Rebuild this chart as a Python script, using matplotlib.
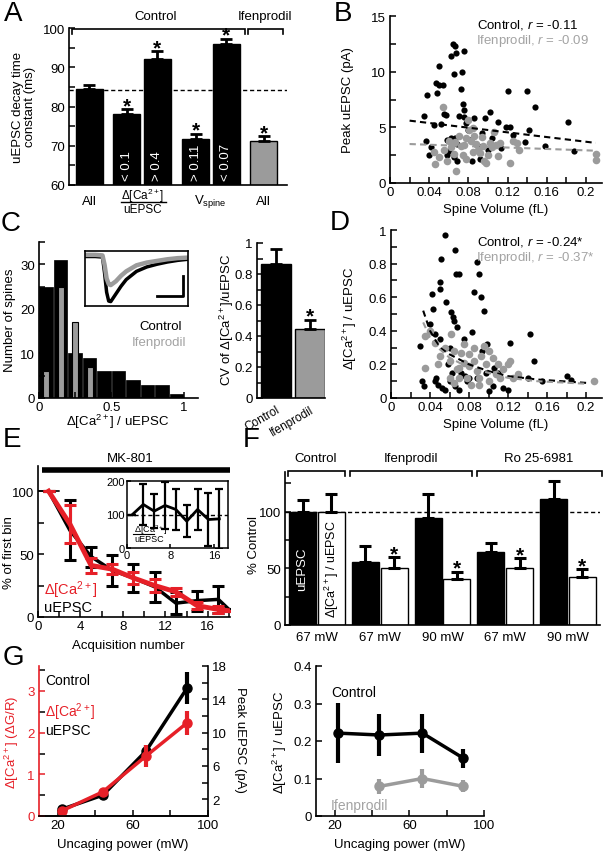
import numpy as np
import matplotlib
matplotlib.use('Agg')
import matplotlib.pyplot as plt
from matplotlib.ticker import MultipleLocator, FixedLocator
from matplotlib.lines import Line2D

plt.rcParams['font.family'] = ['Liberation Sans', 'DejaVu Sans']
plt.rcParams['mathtext.fontset'] = 'custom'
plt.rcParams['mathtext.rm'] = 'Liberation Sans'
plt.rcParams['mathtext.it'] = 'Liberation Sans:italic'
plt.rcParams['mathtext.bf'] = 'Liberation Sans:bold'
plt.rcParams['font.size'] = 9.5
plt.rcParams['xtick.labelsize'] = 9.5
plt.rcParams['ytick.labelsize'] = 9.5
plt.rcParams['xtick.direction'] = 'in'
plt.rcParams['ytick.direction'] = 'in'
plt.rcParams['xtick.major.size'] = 4
plt.rcParams['ytick.major.size'] = 4
plt.rcParams['xtick.minor.size'] = 4
plt.rcParams['ytick.minor.size'] = 4
plt.rcParams['xtick.major.width'] = 1.1
plt.rcParams['ytick.major.width'] = 1.1
plt.rcParams['xtick.minor.width'] = 1.1
plt.rcParams['ytick.minor.width'] = 1.1
plt.rcParams['axes.linewidth'] = 1.2
plt.rcParams['xtick.major.pad'] = 2.5
plt.rcParams['ytick.major.pad'] = 3

RED = '#e62028'
GRAY = '#9b9b9b'
GTXT = '#a3a3a3'

# ---------------- DATA ----------------
# A: uEPSC decay time constant
a_values = [84.5, 78.0, 92.0, 71.7, 95.9, 71.2]
a_errors = [1.0, 1.4, 2.1, 1.4, 1.4, 1.3]
a_thresholds = ['', '< 0.1', '> 0.4', '> 0.11', '< 0.07', '']
a_star = [False, True, True, True, True, True]
a_baseline = 84.3

# B: peak uEPSC vs spine volume
b_ctrl_x = [0.035, 0.038, 0.037, 0.040, 0.042, 0.045, 0.047, 0.048, 0.050, 0.050, 0.052, 0.054, 0.055,
            0.057, 0.058, 0.060, 0.062, 0.064, 0.065, 0.066, 0.067, 0.062, 0.065, 0.068, 0.070, 0.072,
            0.073, 0.074, 0.075, 0.075, 0.076, 0.078, 0.080, 0.082, 0.084, 0.086, 0.090, 0.092, 0.097,
            0.100, 0.102, 0.104, 0.110, 0.113, 0.118, 0.120, 0.122, 0.125, 0.140, 0.142, 0.138, 0.148,
            0.158, 0.182, 0.188, 0.068, 0.058, 0.066, 0.088, 0.094]
b_ctrl_y = [6.0, 7.9, 3.8, 2.5, 3.2, 5.2, 9.0, 8.1, 10.5, 8.8, 5.3, 8.8, 6.2,
            6.1, 3.9, 2.9, 11.4, 12.5, 9.8, 12.3, 11.7, 4.0, 2.3, 2.0, 6.0, 8.4,
            10.0, 7.1, 11.9, 6.6, 5.9, 5.4, 4.8, 3.9, 2.0, 5.8, 3.3, 2.2, 5.8,
            3.0, 6.4, 4.0, 5.5, 3.1, 5.0, 8.3, 5.0, 4.3, 8.3, 4.8, 3.7, 6.8,
            3.3, 5.5, 2.9, 3.5, 2.5, 4.0, 3.5, 4.5]
b_ifen_x = [0.045, 0.046, 0.050, 0.054, 0.055, 0.058, 0.062, 0.066, 0.067, 0.070, 0.072, 0.074, 0.076,
            0.078, 0.080, 0.081, 0.083, 0.085, 0.086, 0.088, 0.090, 0.092, 0.094, 0.095, 0.096, 0.098,
            0.100, 0.102, 0.104, 0.106, 0.108, 0.110, 0.112, 0.122, 0.125, 0.130, 0.132, 0.078, 0.085,
            0.210, 0.210, 0.065, 0.060]
b_ifen_y = [2.8, 1.7, 2.3, 6.8, 3.0, 2.0, 3.2, 3.7, 1.1, 4.2, 3.3, 2.5, 3.4,
            2.2, 5.7, 4.8, 3.8, 4.9, 4.2, 3.5, 3.0, 2.7, 4.1, 3.3, 2.0, 1.8,
            2.5, 3.6, 3.2, 4.6, 3.4, 2.4, 3.6, 1.8, 3.8, 3.6, 3.0, 4.0, 2.8,
            2.6, 2.1, 2.6, 3.8]
b_fit_x = [0.02, 0.21]
b_fit_ctrl = [5.6, 3.6]
b_fit_ifen = [3.5, 2.9]

# C: histogram of dCa/uEPSC and CV
c_bin_left = [0.0, 0.1, 0.2, 0.3, 0.4, 0.5, 0.6, 0.7, 0.8, 0.9]
c_ctrl_counts = [25, 31, 10, 9, 6, 6, 4, 3, 3, 1]
c_ifen_counts = [6, 25, 17, 7]
c_cv_labels = ['Control', 'Ifenprodil']
c_cv_values = [0.865, 0.445]
c_cv_errors = [0.095, 0.06]
c_trace_t = [0.0, 0.1, 0.17, 0.19, 0.21, 0.23, 0.25, 0.3, 0.35, 0.4, 0.5, 0.6, 0.7, 0.8, 0.9, 1.0]
c_trace_ctrl = [0.90, 0.90, 0.89, 0.60, 0.25, 0.09, 0.08, 0.22, 0.36, 0.48, 0.63, 0.71, 0.76, 0.80, 0.83, 0.85]
c_trace_ifen = [0.93, 0.93, 0.92, 0.75, 0.50, 0.40, 0.38, 0.45, 0.55, 0.63, 0.74, 0.79, 0.82, 0.85, 0.87, 0.88]

# D: dCa/uEPSC vs spine volume
d_ctrl_x = [0.030, 0.032, 0.034, 0.040, 0.042, 0.043, 0.045, 0.046, 0.048, 0.050, 0.050, 0.051, 0.055,
            0.056, 0.052, 0.055, 0.060, 0.062, 0.064, 0.065, 0.066, 0.067, 0.070, 0.068, 0.066, 0.070,
            0.072, 0.075, 0.078, 0.080, 0.083, 0.085, 0.088, 0.090, 0.092, 0.095, 0.093, 0.098, 0.100,
            0.105, 0.110, 0.115, 0.120, 0.122, 0.130, 0.140, 0.142, 0.147, 0.155, 0.180, 0.185, 0.060,
            0.063, 0.058, 0.076, 0.088, 0.097, 0.106, 0.045, 0.050]
d_ctrl_y = [0.31, 0.10, 0.07, 0.44, 0.62, 0.53, 0.10, 0.12, 0.08, 0.69, 0.65, 0.83, 0.97,
            0.57, 0.06, 0.05, 0.30, 0.51, 0.48, 0.46, 0.88, 0.74, 0.74, 0.42, 0.07, 0.05,
            0.15, 0.35, 0.10, 0.12, 0.39, 0.63, 0.81, 0.74, 0.60, 0.52, 0.28, 0.32, 0.04,
            0.07, 0.15, 0.06, 0.05, 0.33, 0.13, 0.12, 0.38, 0.22, 0.10, 0.13, 0.11, 0.10,
            0.15, 0.20, 0.13, 0.12, 0.15, 0.18, 0.38, 0.35]
d_ifen_x = [0.035, 0.040, 0.045, 0.048, 0.050, 0.055, 0.060, 0.060, 0.065, 0.068, 0.070, 0.072, 0.075,
            0.075, 0.078, 0.080, 0.082, 0.085, 0.085, 0.088, 0.090, 0.092, 0.095, 0.097, 0.100, 0.100,
            0.105, 0.108, 0.110, 0.112, 0.115, 0.120, 0.122, 0.125, 0.130, 0.070, 0.080, 0.090, 0.062,
            0.035, 0.208, 0.065]
d_ifen_y = [0.37, 0.40, 0.33, 0.20, 0.25, 0.30, 0.12, 0.22, 0.28, 0.17, 0.18, 0.27, 0.32,
            0.21, 0.12, 0.19, 0.08, 0.22, 0.30, 0.16, 0.12, 0.25, 0.31, 0.20, 0.10, 0.28,
            0.24, 0.14, 0.20, 0.12, 0.17, 0.20, 0.22, 0.12, 0.14, 0.12, 0.26, 0.08, 0.38,
            0.18, 0.10, 0.09]
d_fit_x = [0.033, 0.04, 0.05, 0.06, 0.08, 0.10, 0.12, 0.15, 0.20]
d_fit_ctrl = [0.52, 0.40, 0.30, 0.26, 0.20, 0.16, 0.13, 0.11, 0.09]
d_fit_ifen = [0.45, 0.36, 0.29, 0.24, 0.18, 0.15, 0.12, 0.10, 0.085]

# E: MK-801 block
e_acq = [1, 3, 5, 7, 9, 11, 13, 15, 17, 18]
e_uepsc = [100, 69, 48, 37, 31, 24, 11, 13, 14, 6]
e_uepsc_err = [0, 24, 8, 12, 11, 12, 9, 8, 11, 0]
e_ca = [100, 74, 41, 38, 31, 25, 20, 9, 6, 5]
e_ca_err = [0, 15, 6, 4, 5, 5, 3, 3, 3, 0]
ei_acq = [1, 3, 5, 7, 9, 11, 13, 15, 17]
ei_ratio = [100, 130, 110, 127, 115, 80, 115, 85, 87]
ei_err = [0, 60, 50, 70, 60, 48, 60, 78, 90]

# F: % control
f_treat = ['Control', 'Ifenprodil', 'Ro 25-6981']
f_power = ['67 mW', '67 mW', '90 mW', '67 mW', '90 mW']
f_uepsc = [100, 56, 94, 64, 111]
f_uepsc_err = [10, 14, 22, 8, 16]
f_ratio = [100, 50, 41, 50, 42]
f_ratio_err = [16, 10, 6, 9, 7]
f_star = [False, True, True, True, True]

# G: uncaging power
g_power = [22, 44, 67, 89]
g_ca = [0.12, 0.58, 1.44, 2.24]
g_ca_err = [0.05, 0.08, 0.27, 0.29]
g_uepsc = [0.8, 2.5, 7.8, 15.4]
g_uepsc_err = [0.3, 0.4, 0.7, 1.9]
gr_ctrl = [0.221, 0.216, 0.221, 0.154]
gr_ctrl_err = [0.08, 0.055, 0.052, 0.025]
gr_ifen_power = [44, 67, 89]
gr_ifen = [0.079, 0.100, 0.079]
gr_ifen_err = [0.02, 0.025, 0.016]

# ---------------- LAYOUT HELPERS ----------------
W, H = 605, 853
fig = plt.figure(figsize=(W / 100, H / 100), dpi=100)


def add_ax(l, t, r, b):
    return fig.add_axes([l / W, 1 - b / H, (r - l) / W, (b - t) / H])


def T(x, y, s, **kw):
    kw.setdefault('ha', 'center')
    kw.setdefault('va', 'center')
    fig.text(x / W, 1 - y / H, s, **kw)


def L(xs, ys, **kw):
    kw.setdefault('color', 'k')
    kw.setdefault('lw', 1.2)
    fig.add_artist(Line2D([x / W for x in xs], [1 - y / H for y in ys], transform=fig.transFigure, **kw))


def bracket(x0, x1, y, d=5):
    L([x0, x0, x1, x1], [y + d, y, y, y + d], solid_joinstyle='miter')


def lb(ax):
    ax.spines['top'].set_visible(False)
    ax.spines['right'].set_visible(False)


def star(ax, x, y, off=-1.5, fs=15):
    ax.annotate('*', xy=(x, y), xytext=(0, off), textcoords='offset points', ha='center',
                va='baseline', fontsize=fs, fontweight='bold', annotation_clip=False)


DCA = r'$\Delta$[Ca$^{2+}$]'

# ---------------- PANEL A ----------------
axA = add_ax(69, 29, 287, 186)
lb(axA)
a_pos = np.array([0, 1.23, 2.23, 3.48, 4.48, 5.71])
a_cols = ['k'] * 5 + [GRAY]
axA.bar(a_pos, a_values, width=0.885, color=a_cols, edgecolor='k', lw=1, bottom=0)
axA.errorbar(a_pos, a_values, yerr=[np.zeros(6), a_errors], fmt='none', ecolor='k', elinewidth=2,
             capsize=4, capthick=2)
axA.axhline(a_baseline, ls=(0, (3, 2)), color='k', lw=1)
axA.set_xlim(-0.67, 6.48)
axA.set_ylim(60, 100)
axA.set_yticks([60, 70, 80, 90, 100])
axA.yaxis.set_minor_locator(MultipleLocator(5))
axA.set_xticks([])
for p, v, e, s, th in zip(a_pos, a_values, a_errors, a_star, a_thresholds):
    if s:
        star(axA, p, v + e)
    if th:
        axA.text(p, 61.3, th, rotation=90, color='white', ha='center', va='bottom', fontsize=9.5)
xt = axA.get_xaxis_transform()
axA.text(a_pos[0], -0.1, 'All', transform=xt, ha='center', va='center')
axA.text(a_pos[5], -0.1, 'All', transform=xt, ha='center', va='center')
axA.text((a_pos[3] + a_pos[4]) / 2, -0.1, r'V$_{\mathrm{spine}}$', transform=xt, ha='center', va='center')
axA.text((a_pos[1] + a_pos[2]) / 2, -0.065, DCA, transform=xt, ha='center', va='center', fontsize=8.5)
axA.text((a_pos[1] + a_pos[2]) / 2, -0.155, 'uEPSC', transform=xt, ha='center', va='center', fontsize=8.5)
L([121, 166], [203, 203], lw=1)
bracket(72, 245, 30)
bracket(248, 283, 30)
T(156, 17, 'Control')
T(265, 17, 'Ifenprodil')
T(24, 107, 'uEPSC decay time\nconstant (ms)', rotation=90, linespacing=1.1)

# ---------------- PANEL B ----------------
vol_ticks = [0, 0.04, 0.08, 0.12, 0.16, 0.2]
vol_labels = ['0', '0.04', '0.08', '0.12', '0.16', '0.2']
axB = add_ax(390, 17, 602, 184)
lb(axB)
axB.scatter(b_ctrl_x, b_ctrl_y, s=20, color='k', zorder=2, linewidths=0)
axB.scatter(b_ifen_x, b_ifen_y, s=30, color=GRAY, zorder=3, linewidths=0)
axB.plot(b_fit_x, b_fit_ctrl, ls=(0, (3, 2)), color='k', lw=1.5, zorder=4)
axB.plot(b_fit_x, b_fit_ifen, ls=(0, (3, 2)), color=GRAY, lw=1.5, zorder=4)
axB.set_xlim(0, 0.2163)
axB.set_ylim(0, 15)
axB.set_xticks(vol_ticks)
axB.set_xticklabels(vol_labels)
axB.xaxis.set_minor_locator(MultipleLocator(0.02))
axB.set_yticks([0, 5, 10, 15])
axB.yaxis.set_minor_locator(MultipleLocator(2.5))
T(477, 25, r'Control, $r$ = -0.11', ha='left')
T(476, 41, r'Ifenprodil, $r$ = -0.09', ha='left', color=GTXT)
T(496, 210, 'Spine Volume (fL)')
T(348, 100, 'Peak uEPSC (pA)', rotation=90)

# ---------------- PANEL C ----------------
axC = add_ax(39, 243, 198, 399)
lb(axC)
axC.bar(np.array(c_bin_left) + 0.003, c_ctrl_counts, width=0.094, align='edge', color='k', edgecolor='k', lw=0.5)
axC.bar(np.array(c_bin_left[:4]) + 0.05, c_ifen_counts, width=0.042, color=GRAY, edgecolor='k', lw=0.8)
axC.set_xlim(0, 1.1)
axC.set_ylim(0, 35)
axC.set_xticks([0, 0.5, 1])
axC.set_xticklabels(['0', '0.5', '1'])
axC.xaxis.set_minor_locator(MultipleLocator(0.25))
axC.set_yticks([0, 10, 20, 30])
axC.yaxis.set_minor_locator(MultipleLocator(5))
T(182, 327, 'Control', ha='right')
T(186, 343, 'Ifenprodil', ha='right', color=GTXT)
T(118, 422, DCA + ' / uEPSC')
T(10, 320, 'Number of spines', rotation=90)

axCi = add_ax(85, 252, 188, 307)
axCi.plot(c_trace_t, c_trace_ctrl, color='k', lw=2.5, solid_capstyle='butt')
axCi.plot(c_trace_t, c_trace_ifen, color=GRAY, lw=3.2, solid_capstyle='butt')
axCi.set_xlim(0, 1)
axCi.set_ylim(0, 1)
axCi.set_xticks([])
axCi.set_yticks([])
for sp in axCi.spines.values():
    sp.set_linewidth(1.2)
L([157, 182.5, 182.5], [297, 297, 277], lw=2)

axC2 = add_ax(257, 244, 325, 399)
lb(axC2)
axC2.bar([0, 1], c_cv_values, width=0.88, color=['k', GRAY], edgecolor='k', lw=1)
axC2.errorbar([0, 1], c_cv_values, yerr=[[0, 0], c_cv_errors], fmt='none', ecolor='k', elinewidth=2,
              capsize=4, capthick=2)
star(axC2, 1, c_cv_values[1] + c_cv_errors[1])
axC2.set_xlim(-0.56, 1.44)
axC2.set_ylim(0, 1)
axC2.set_yticks([0, 0.2, 0.4, 0.6, 0.8, 1.0])
axC2.set_yticklabels(['0', '0.2', '0.4', '0.6', '0.8', '1'])
axC2.yaxis.set_minor_locator(MultipleLocator(0.1))
axC2.set_xticks([0, 1])
axC2.set_xticklabels(c_cv_labels, rotation=30, ha='right', rotation_mode='anchor', fontsize=8.5)
axC2.tick_params(axis='x', length=0, pad=4)
T(227, 320, 'CV of ' + DCA + '/uEPSC', rotation=90)

# ---------------- PANEL D ----------------
axD = add_ax(391, 231, 602, 399)
lb(axD)
axD.scatter(d_ctrl_x, d_ctrl_y, s=20, color='k', zorder=2, linewidths=0)
axD.scatter(d_ifen_x, d_ifen_y, s=30, color=GRAY, zorder=3, linewidths=0)
axD.plot(d_fit_x, d_fit_ctrl, ls=(0, (3, 2)), color='k', lw=1.5, zorder=4)
axD.plot(d_fit_x, d_fit_ifen, ls=(0, (3, 2)), color=GRAY, lw=1.5, zorder=4)
axD.set_xlim(0, 0.2163)
axD.set_ylim(0, 1)
axD.set_xticks(vol_ticks)
axD.set_xticklabels(vol_labels)
axD.xaxis.set_minor_locator(MultipleLocator(0.02))
axD.set_yticks([0, 0.2, 0.4, 0.6, 0.8, 1.0])
axD.set_yticklabels(['0', '0.2', '0.4', '0.6', '0.8', '1'])
axD.yaxis.set_minor_locator(MultipleLocator(0.1))
T(477, 242, r'Control, $r$ = -0.24*', ha='left')
T(476, 258, r'Ifenprodil, $r$ = -0.37*', ha='left', color=GTXT)
T(496, 425, 'Spine Volume (fL)')
T(350, 318, DCA + ' / uEPSC', rotation=90)

# ---------------- PANEL E ----------------
axE = add_ax(38, 467, 230, 618)
lb(axE)
axE.plot([0, 2.2], [100, 100], ls=(0, (3, 2)), color='k', lw=1.2)
axE.errorbar(e_acq, e_uepsc, yerr=e_uepsc_err, color='k', lw=2.5, elinewidth=2.2, capsize=4, capthick=2.2, zorder=3)
axE.errorbar(e_acq, e_ca, yerr=e_ca_err, color=RED, lw=3.5, elinewidth=2.2, capsize=4, capthick=2.2, zorder=4)
axE.plot([0.4, 18.1], [117, 117], color='k', lw=4, clip_on=False, solid_capstyle='butt')
axE.set_xlim(0, 18.1)
axE.set_ylim(0, 120)
axE.set_xticks([0, 4, 8, 12, 16])
axE.xaxis.set_minor_locator(MultipleLocator(2))
axE.set_yticks([0, 50, 100])
axE.yaxis.set_minor_locator(MultipleLocator(25))
T(130, 459, 'MK-801')
T(44, 590, DCA, color=RED, ha='left', fontsize=10.5)
T(44, 608, 'uEPSC', ha='left', fontsize=10.5)
T(128, 646, 'Acquisition number')
T(9, 553, '% of first bin', rotation=90)

axEi = add_ax(127, 482, 228, 549)
axEi.axhline(100, ls=(0, (3, 2)), color='k', lw=1)
axEi.errorbar(ei_acq, ei_ratio, yerr=ei_err, color='k', lw=2, elinewidth=1.6, capsize=3, capthick=1.6)
axEi.set_xlim(0, 18.6)
axEi.set_ylim(0, 200)
axEi.set_xticks([0, 8, 16])
axEi.set_yticks([0, 100, 200])
axEi.tick_params(labelsize=8, length=3, pad=1.5)
for sp in axEi.spines.values():
    sp.set_linewidth(1.1)
T(134, 530, DCA, fontsize=6.5, ha='left')
L([133, 154], [535, 535], lw=0.8)
T(134, 540, 'uEPSC', fontsize=6.5, ha='left')

# ---------------- PANEL F ----------------
axF = add_ax(285, 473, 600, 626)
lb(axF)
gx = np.arange(5)
axF.bar(gx - 0.23, f_uepsc, width=0.43, color='k', edgecolor='k', lw=1)
axF.bar(gx + 0.23, f_ratio, width=0.43, color='white', edgecolor='k', lw=1)
axF.errorbar(gx - 0.23, f_uepsc, yerr=[np.zeros(5), f_uepsc_err], fmt='none', ecolor='k', elinewidth=2.2,
             capsize=4, capthick=2.2)
axF.errorbar(gx + 0.23, f_ratio, yerr=[np.zeros(5), f_ratio_err], fmt='none', ecolor='k', elinewidth=2.2,
             capsize=4, capthick=2.2)
axF.axhline(100, ls=(0, (3, 2)), color='k', lw=1, zorder=0.5)
for g, v, e, s in zip(gx, f_ratio, f_ratio_err, f_star):
    if s:
        star(axF, g + 0.23, v + e)
axF.set_xlim(-0.51, 4.51)
axF.set_ylim(0, 135)
axF.set_xticks([])
axF.set_yticks([0, 50, 100])
axF.yaxis.set_minor_locator(MultipleLocator(25))
axF.text(-0.23, 50, 'uEPSC', rotation=90, color='white', ha='center', va='center', fontsize=9.5)
axF.text(0.23, 50, DCA + ' / uEPSC', rotation=90, color='k', ha='center', va='center', fontsize=9)
xtF = axF.get_xaxis_transform()
for g, lab in zip(gx, f_power):
    axF.text(g, -0.08, lab, transform=xtF, ha='center', va='center')
bracket(288, 345, 472)
bracket(350, 472, 472)
bracket(477, 602, 472)
T(316, 459, f_treat[0])
T(411, 459, f_treat[1])
T(539, 459, f_treat[2])
T(254, 545, '% Control', rotation=90)

# ---------------- PANEL G (left) ----------------
axG = add_ax(39, 667, 208, 817)
axG2 = axG.twinx()
axG.set_zorder(axG2.get_zorder() + 1)
axG.patch.set_visible(False)
axG.spines['top'].set_visible(False)
axG2.spines['top'].set_visible(False)
axG.spines['right'].set_visible(False)
axG2.spines['left'].set_visible(False)
axG.spines['left'].set_color(RED)
axG.tick_params(axis='y', colors=RED)
axG.errorbar(g_power, g_ca, yerr=g_ca_err, color=RED, marker='o', ms=6.5, lw=2.5, elinewidth=3, capsize=0)
axG2.errorbar(g_power, g_uepsc, yerr=g_uepsc_err, color='k', marker='o', ms=6.5, lw=2.5, elinewidth=3, capsize=0)
axG.set_xlim(10, 100)
axG.set_ylim(0, 3.6)
axG2.set_ylim(0, 18)
axG.set_xticks([20, 60, 100])
axG.xaxis.set_minor_locator(FixedLocator([40, 80]))
axG.set_yticks([0, 1, 2, 3])
axG.yaxis.set_minor_locator(MultipleLocator(0.5))
axG2.set_yticks([2, 6, 10, 14, 18])
axG2.yaxis.set_minor_locator(FixedLocator([4, 8, 12, 16]))
T(45, 681, 'Control', ha='left', fontsize=10)
T(45, 712, DCA, ha='left', color=RED, fontsize=10)
T(45, 731, 'uEPSC', ha='left', fontsize=10)
T(12, 742, DCA + r' ($\Delta$G/R)', rotation=90, color=RED)
T(240, 740, 'Peak uEPSC (pA)', rotation=270)
T(123, 845, 'Uncaging power (mW)')

# ---------------- PANEL G (right) ----------------
axH = add_ax(316, 667, 484, 817)
lb(axH)
axH.errorbar(g_power, gr_ctrl, yerr=gr_ctrl_err, color='k', marker='o', ms=6.5, lw=2.5, elinewidth=3, capsize=0)
axH.errorbar(gr_ifen_power, gr_ifen, yerr=gr_ifen_err, color=GRAY, marker='o', ms=6.5, lw=2.5, elinewidth=3, capsize=0)
axH.set_xlim(10, 100)
axH.set_ylim(0, 0.4)
axH.set_xticks([20, 60, 100])
axH.xaxis.set_minor_locator(FixedLocator([40, 80]))
axH.set_yticks([0, 0.1, 0.2, 0.3, 0.4])
axH.set_yticklabels(['0', '0.1', '0.2', '0.3', '0.4'])
T(331, 693, 'Control', ha='left', fontsize=10)
T(331, 806, 'Ifenprodil', ha='left', color=GTXT, fontsize=10)
T(280, 742, DCA + ' / uEPSC', rotation=90)
T(400, 845, 'Uncaging power (mW)')

# ---------------- PANEL LETTERS ----------------
for lab, x, y in [('A', 13, 14), ('B', 343, 14), ('C', 11, 224), ('D', 340, 223), ('E', 12, 440),
                  ('F', 251, 440), ('G', 13, 658)]:
    T(x, y, lab, fontsize=20)

fig.savefig('out.png', dpi=100)
